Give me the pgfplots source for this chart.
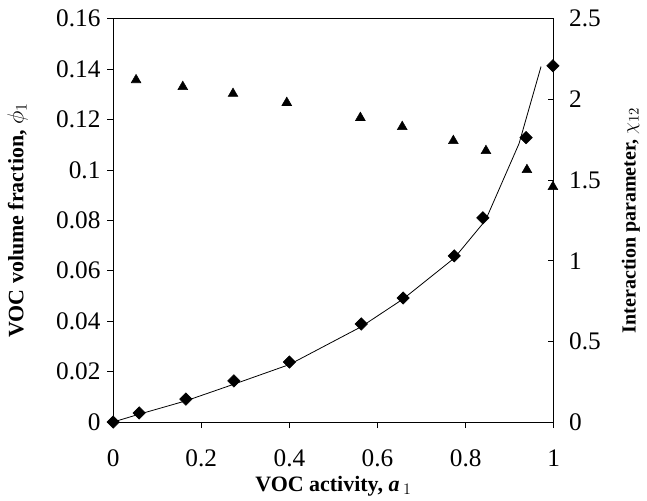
\documentclass[border=0pt]{standalone}
\usepackage{pgfplots}
\pgfplotsset{compat=1.18}
\usepackage{fontspec}
\setmainfont{Liberation Serif}
\usetikzlibrary{plotmarks}

\pgfplotstableread{
x phi
0     0
0.059 0.0036
0.165 0.0091
0.274 0.0163
0.400 0.0238
0.563 0.0389
0.658 0.0492
0.774 0.0659
0.839 0.0810
0.937 0.1128
0.998 0.1413
}\phidata

\pgfplotstableread{
x fit
0     0
0.059 0.0031
0.165 0.0084
0.274 0.0150
0.400 0.0228
0.563 0.0378
0.658 0.0488
0.774 0.0650
0.845 0.0800
0.921 0.1104
0.971 0.1410
}\fitdata

\pgfplotstableread{
x chi
0.052 2.120
0.158 2.078
0.272 2.035
0.394 1.979
0.561 1.886
0.656 1.830
0.772 1.743
0.846 1.681
0.939 1.563
0.998 1.458
}\chidata

\begin{document}
\begin{tikzpicture}
\pgfplotsset{
  every axis/.append style={
    scale only axis, width=331pt, height=303pt,
    xmin=0, xmax=1,
    tick label style={font=\fontsize{19}{21}\selectfont},
    label style={font=\fontsize{16.5}{18}\selectfont\bfseries},
    /pgf/number format/assume math mode=true,
    major tick length=4.5pt,
    axis line style={line width=0.6pt},
    every tick/.style={black, line width=0.5pt},
  },
}
\begin{axis}[
  name=ax,
  ymin=0, ymax=0.16,
  xtick={0,0.2,...,1}, ytick={0,0.02,...,0.16},
  xtick pos=bottom, ytick pos=left, tick align=outside,
  yticklabel style={/pgf/number format/fixed, /pgf/number format/precision=2, xshift=-1.5pt},
  xticklabel style={yshift=-13pt},
  xlabel={VOC activity, \textbf{\textit{a}}\,{\mdseries$_{1}$}},
  xlabel style={at={(axis description cs:0.5,-0.158)}, anchor=center},
  ylabel={VOC volume fraction, {\mdseries$\phi_{1}$}},
  ylabel style={at={(axis description cs:-0.217,0.5)}, anchor=center},
  clip=false,
]
\addplot[black, line width=0.6pt] table[x=x, y=fit] {\fitdata};
\addplot[only marks, mark=square*, mark size=3.3pt, mark options={rotate=45, fill=black}] table[x=x, y=phi] {\phidata};
\end{axis}
\begin{axis}[
  ymin=0, ymax=2.5,
  axis x line=none, axis y line*=right,
  ytick={0,0.5,...,2.5}, ytick align=inside,
  yticklabel style={xshift=8pt},
  ylabel={Interaction parameter, {\mdseries$\chi_{12}$}},
  ylabel style={font=\fontsize{15}{17}\selectfont\bfseries, at={(axis description cs:1.175,0.5)}, anchor=center},
  clip=false,
]
\addplot[only marks, mark=triangle*, mark size=4.2pt, mark options={fill=black}] table[x=x, y=chi] {\chidata};
\end{axis}
\path (ax.south west) ++(-85pt,-58pt);
\path (ax.north east) ++(70pt,14pt);
\end{tikzpicture}
\end{document}
